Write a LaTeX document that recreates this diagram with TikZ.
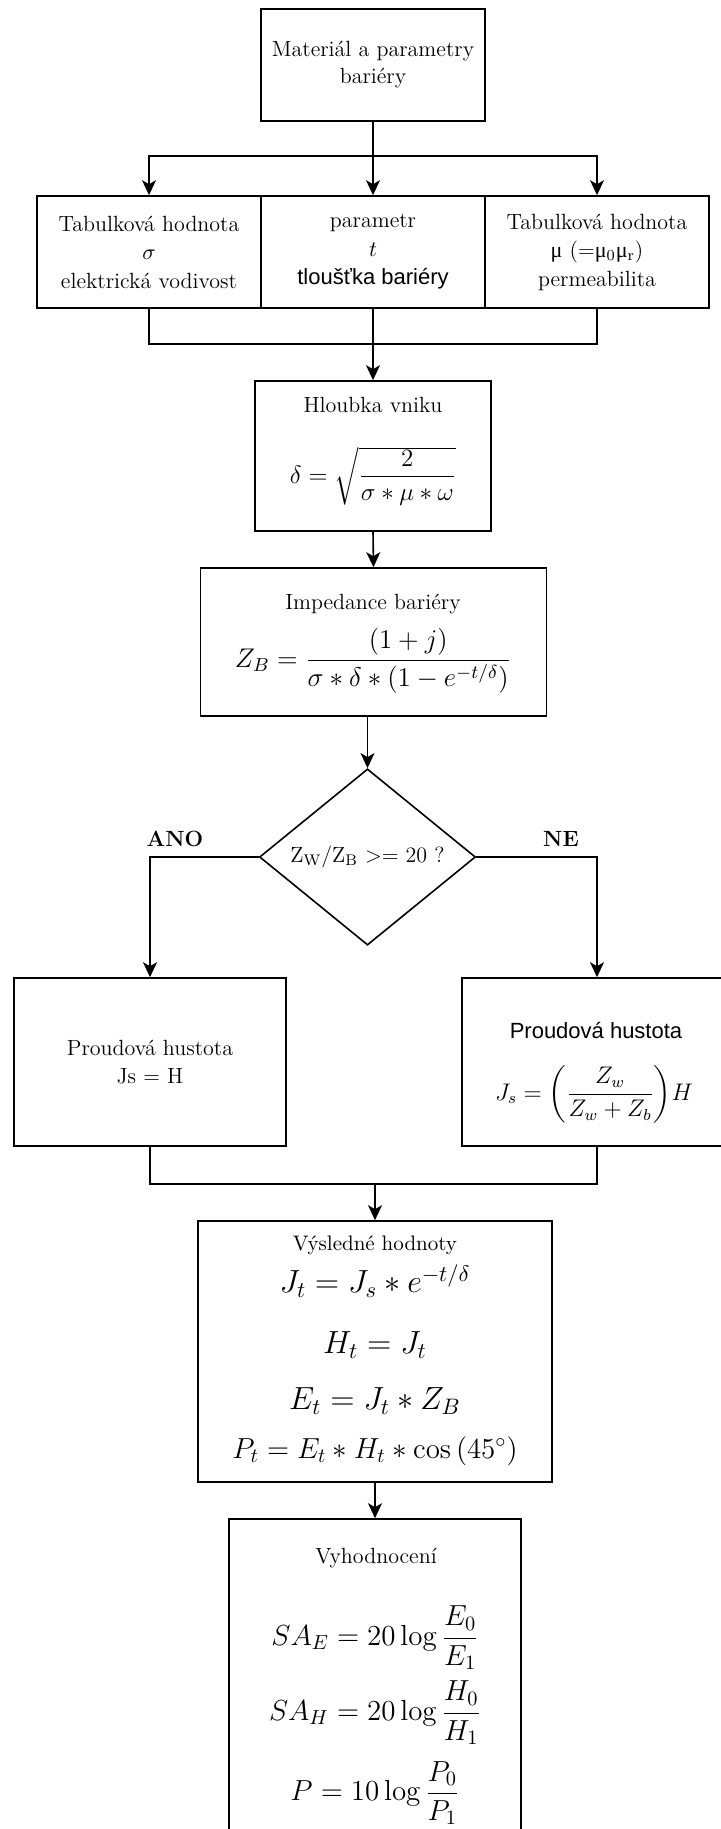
\RequirePackage{fix-cm}
\documentclass[tikz,border=0pt]{standalone}
\usepackage{amsmath}
\usepackage{fontspec}
\newfontfamily\arialf{Liberation Sans}
\newfontfamily\greekf{Liberation Serif}
\usetikzlibrary{shapes.geometric,arrows.meta}
\tikzset{
  box/.style={draw, line width=0.8pt, inner sep=0pt, align=center, font=\fontsize{11}{14}\selectfont},
  txt/.style={inner sep=0pt, align=center, font=\fontsize{11}{14}\selectfont},
  mth/.style={inner sep=0pt, font=\fontsize{#1}{#1}\selectfont},
  conn/.style={line width=0.8pt},
  arr/.style={conn, -{Stealth[length=7.5pt,width=7pt,inset=2pt]}},
}
\begin{document}
\begin{tikzpicture}[x=0.5pt,y=-0.5pt]
\useasboundingbox (0,0) rectangle (721,1829);
\clip (0,0) rectangle (721,1829);
% top
\node[box, minimum width=112pt, minimum height=56pt, font=\fontsize{11}{13.5}\selectfont] (top) at (373,65) {Materiál a parametry\\bariéry};
% row
\node[box, minimum width=112pt, minimum height=56pt, font=\fontsize{11}{14.25}\selectfont] (tabL) at (149,252) {Tabulková hodnota\\$\sigma$\\elektrická vodivost};
\node[box, minimum width=112pt, minimum height=56pt, font=\fontsize{11}{14.25}\selectfont] (tabM) at (373,252) {parametr\\$t$\\{\arialf tloušťka bariéry}};
\node[box, minimum width=112pt, minimum height=56pt, font=\fontsize{11}{14.25}\selectfont] (tabR) at (597,252) {Tabulková hodnota\\{\greekf μ} (={\greekf μ}\textsubscript{0}{\greekf μ}\textsubscript{r})\\permeabilita};
% hloubka
\node[box, minimum width=118pt, minimum height=75pt] (hl) at (373,456) {};
\node[txt] (hlT) at (373,405) {Hloubka vniku};
\node[mth=12.5] (hlF) at (373,476) {$\delta=\sqrt{\dfrac{2}{\sigma*\mu*\omega}}$};
% impedance
\node[box, minimum width=173pt, minimum height=74pt] (imp) at (373.5,642) {};
\node[txt] (impT) at (373,604) {Impedance bariéry};
\node[mth=13.5] (impF) at (373,661) {$Z_B=\dfrac{(1+j)}{\sigma*\delta*(1-e^{-t/\delta})}$};
% decision
\node[draw, diamond, line width=0.8pt, minimum width=108pt, minimum height=84pt, inner sep=0pt, font=\fontsize{11}{14}\selectfont] (dia) at (367.5,857) {Z\textsubscript{W}/Z\textsubscript{B} >= 20 ?};
\node[txt, font=\fontsize{11}{14}\selectfont\bfseries] (ano) at (175,839) {ANO};
\node[txt, font=\fontsize{11}{14}\selectfont\bfseries] (ne) at (561,839) {NE};
% branches
\node[box, minimum width=136pt, minimum height=84pt] (lb) at (150,1062) {Proudová hustota\\Js = H};
\node[box, minimum width=135pt, minimum height=84pt] (rb) at (597,1062) {};
\node[txt, font=\arialf\fontsize{11}{14}\selectfont] (rbT) at (596,1030) {Proudová hustota};
\node[mth=12] (rbF) at (594,1094) {$J_s=\biggl(\dfrac{Z_w}{Z_w+Z_b}\biggr)H$};
% results
\node[box, minimum width=177pt, minimum height=130.5pt] (res) at (375,1351.5) {};
\node[txt, font=\fontsize{10.5}{13}\selectfont] (resT) at (375,1245) {Výsledné hodnoty};
\node[mth=16] (resJ) at (375,1281) {$J_t=J_s*e^{-t/\delta}$};
\node[mth=16] (resH) at (375,1345) {$H_t=J_t$};
\node[mth=16] (resE) at (375,1401) {$E_t=J_t*Z_B$};
\node[mth=14.5] (resP) at (375,1451) {$P_t=E_t*H_t*\cos\,(45^\circ)$};
% evaluation
\node[box, minimum width=146pt, minimum height=180.5pt] (ev) at (375,1699.5) {};
\node[txt] (evT) at (376,1558) {Vyhodnocení};
\node[mth=14.5] (evE) at (375,1638) {$SA_E=20\log\dfrac{E_0}{E_1}$};
\node[mth=14.5] (evH) at (375,1713) {$SA_H=20\log\dfrac{H_0}{H_1}$};
\node[mth=14.5] (evP) at (375,1793) {$P=10\log\dfrac{P_0}{P_1}$};
% connectors
\coordinate (s1) at (373,156);
\draw[conn] (top.south) -- (s1);
\draw[arr] (s1) -| (tabL.north);
\draw[arr] (s1) -- (tabM.north);
\draw[arr] (s1) -| (tabR.north);
\coordinate (j1) at (373,344);
\draw[conn] (tabL.south) |- (j1);
\draw[conn] (tabR.south) |- (j1);
\draw[arr] (tabM.south) -- (hl.north);
\draw[arr] (hl.south) -- (imp.north);
\draw[arr] (imp.south -| dia.north) -- (dia.north);
\draw[arr] (dia.west) -| (lb.north);
\draw[arr] (dia.east) -| (rb.north);
\coordinate (j2) at (375,1184);
\draw[conn] (lb.south) |- (j2);
\draw[conn] (rb.south) |- (j2);
\draw[arr] (j2) -- (res.north);
\draw[arr] (res.south) -- (ev.north);
\end{tikzpicture}
\end{document}
